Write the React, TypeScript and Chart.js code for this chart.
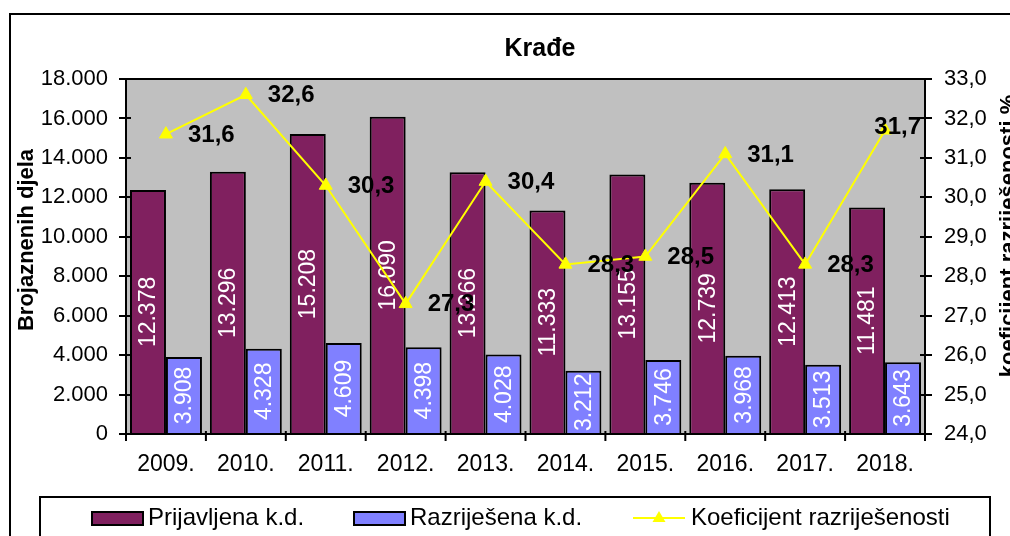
import React, { useEffect, useRef } from 'react';
import { Chart, registerables } from 'chart.js';

Chart.register(...registerables);

const years = ['2009.', '2010.', '2011.', '2012.', '2013.', '2014.', '2015.', '2016.', '2017.', '2018.'];
const prijavljena = [12378, 13296, 15208, 16090, 13266, 11333, 13155, 12739, 12413, 11481];
const razrijesena = [3908, 4328, 4609, 4398, 4028, 3212, 3746, 3968, 3513, 3643];
const koeficijent = [31.6, 32.6, 30.3, 27.3, 30.4, 28.3, 28.5, 31.1, 28.3, 31.7];

const seriesNames = ['Prijavljena k.d.', 'Razriješena k.d.', 'Koeficijent razriješenosti'];
const chartTitle = 'Krađe';
const leftTitle = 'Brojaznenih djela';
const rightTitle = 'koeficijent razriješenosti %';

const FONT = '"Liberation Sans", Arial, sans-serif';
const PURPLE = '#80205F';
const BLUE = '#8080FF';
const YELLOW = '#FFFF00';

const fmtThousands = (v: number) => {
  const s = Math.round(v).toString();
  return s.replace(/\B(?=(\d{3})+(?!\d))/g, '.');
};
const fmtDec = (v: number) => v.toFixed(1).replace('.', ',');

const decorPlugin = {
  id: 'decor',
  beforeDraw(chart: any) {
    const { ctx, chartArea: a } = chart;
    ctx.save();
    ctx.fillStyle = '#FFFFFF';
    ctx.fillRect(0, 0, chart.width, chart.height);
    ctx.strokeStyle = '#000';
    ctx.lineWidth = 2;
    ctx.strokeRect(10, 14, 1200, 800);
    ctx.fillStyle = '#C0C0C0';
    ctx.fillRect(a.left, a.top, a.right - a.left, a.bottom - a.top);
    ctx.restore();
  },
  afterDatasetDraw(chart: any, args: any) {
    const ds = chart.data.datasets[args.index];
    if (ds.type !== 'bar') return;
    const { ctx } = chart;
    ctx.save();
    ctx.fillStyle = '#FFFFFF';
    ctx.font = `23px ${FONT}`;
    ctx.textAlign = 'center';
    ctx.textBaseline = 'middle';
    args.meta.data.forEach((el: any, i: number) => {
      const p = el.getProps(['x', 'y', 'base'], true);
      ctx.save();
      ctx.translate(p.x, (p.y + p.base) / 2);
      ctx.rotate(-Math.PI / 2);
      ctx.fillText(fmtThousands(ds.data[i]), 0, 1);
      ctx.restore();
    });
    ctx.restore();
  },
  afterDatasetsDraw(chart: any) {
    const { ctx, chartArea: a } = chart;
    const yS = chart.scales.y;
    const y1S = chart.scales.y1;
    ctx.save();
    // frame
    ctx.strokeStyle = '#000';
    ctx.lineWidth = 2;
    ctx.beginPath();
    ctx.moveTo(a.left, a.top);
    ctx.lineTo(a.right, a.top);
    ctx.moveTo(a.left, a.top - 1);
    ctx.lineTo(a.left, a.bottom + 1);
    ctx.moveTo(a.right, a.top - 1);
    ctx.lineTo(a.right, a.bottom + 1);
    ctx.moveTo(a.left, a.bottom);
    ctx.lineTo(a.right, a.bottom);
    // ticks
    yS.ticks.forEach((t: any) => {
      const py = Math.round(yS.getPixelForValue(t.value));
      ctx.moveTo(a.left - 7, py);
      ctx.lineTo(a.left + 5, py);
    });
    y1S.ticks.forEach((t: any) => {
      const py = Math.round(y1S.getPixelForValue(t.value));
      ctx.moveTo(a.right - 5, py);
      ctx.lineTo(a.right + 7, py);
    });
    const n = years.length;
    for (let i = 0; i <= n; i++) {
      const px = a.left + ((a.right - a.left) * i) / n;
      ctx.moveTo(px, a.bottom - 3);
      ctx.lineTo(px, a.bottom + 7);
    }
    ctx.stroke();

    // line labels
    const meta = chart.getDatasetMeta(0);
    ctx.fillStyle = '#000';
    ctx.font = `bold 24px ${FONT}`;
    ctx.textAlign = 'left';
    ctx.textBaseline = 'middle';
    meta.data.forEach((el: any, i: number) => {
      const txt = fmtDec(koeficijent[i]);
      const w = ctx.measureText(txt).width;
      let x = el.x + 22;
      let y = el.y + 1;
      if (x + w > a.right - 4) {
        x = a.right - 4 - w;
        y = el.y - 3;
      }
      ctx.fillText(txt, x, y);
    });

    // title
    ctx.font = `bold 25px ${FONT}`;
    ctx.textAlign = 'center';
    ctx.fillText(chartTitle, 540, 49);

    // axis titles
    ctx.font = `bold 22px ${FONT}`;
    ctx.save();
    ctx.translate(16, 240);
    ctx.rotate(-Math.PI / 2);
    ctx.textBaseline = 'top';
    ctx.textAlign = 'center';
    ctx.fillText(leftTitle, 0, 0);
    ctx.restore();
    ctx.save();
    ctx.translate(998, 236);
    ctx.rotate(-Math.PI / 2);
    ctx.textBaseline = 'top';
    ctx.textAlign = 'center';
    ctx.fillText(rightTitle, 0, 0);
    ctx.restore();

    // legend
    ctx.lineWidth = 2;
    ctx.strokeStyle = '#000';
    ctx.strokeRect(40, 497, 950, 200);
    ctx.font = `24px ${FONT}`;
    ctx.textAlign = 'left';
    ctx.textBaseline = 'middle';
    const ly = 518;
    ctx.fillStyle = PURPLE;
    ctx.fillRect(92, 512, 51, 13);
    ctx.strokeRect(92, 512, 51, 13);
    ctx.fillStyle = '#000';
    ctx.fillText(seriesNames[0], 148, ly);
    ctx.fillStyle = BLUE;
    ctx.fillRect(354, 512, 51, 13);
    ctx.strokeRect(354, 512, 51, 13);
    ctx.fillStyle = '#000';
    ctx.fillText(seriesNames[1], 410, ly);
    ctx.strokeStyle = YELLOW;
    ctx.beginPath();
    ctx.moveTo(633, 518);
    ctx.lineTo(685, 518);
    ctx.stroke();
    ctx.fillStyle = YELLOW;
    ctx.beginPath();
    ctx.moveTo(659, 511);
    ctx.lineTo(665.5, 522);
    ctx.lineTo(652.5, 522);
    ctx.closePath();
    ctx.fill();
    ctx.fillStyle = '#000';
    ctx.fillText(seriesNames[2], 691, ly);
    ctx.restore();
  },
};

export default function App() {
  const ref = useRef<HTMLCanvasElement | null>(null);
  useEffect(() => {
    if (!ref.current) return;
    const chart = new Chart(ref.current, {
      type: 'bar',
      data: {
        labels: years,
        datasets: [
          {
            type: 'line',
            label: seriesNames[2],
            data: koeficijent,
            yAxisID: 'y1',
            borderColor: YELLOW,
            borderWidth: 2,
            pointStyle: 'triangle',
            pointRadius: 7.5,
            pointBackgroundColor: YELLOW,
            pointBorderColor: YELLOW,
            pointBorderWidth: 1,
            tension: 0,
            order: 0,
          } as any,
          {
            type: 'bar',
            label: seriesNames[0],
            data: prijavljena,
            yAxisID: 'y',
            backgroundColor: PURPLE,
            borderColor: '#000',
            borderWidth: 2,
            categoryPercentage: 0.9,
            barPercentage: 1,
            order: 1,
          },
          {
            type: 'bar',
            label: seriesNames[1],
            data: razrijesena,
            yAxisID: 'y',
            backgroundColor: BLUE,
            borderColor: '#000',
            borderWidth: 2,
            categoryPercentage: 0.9,
            barPercentage: 1,
            order: 1,
          },
        ],
      },
      options: {
        animation: false,
        responsive: false,
        devicePixelRatio: 1,
        layout: { padding: { top: 79, left: 0, right: 0, bottom: 0 } },
        plugins: { legend: { display: false }, tooltip: { enabled: false }, title: { display: false } },
        scales: {
          x: {
            grid: { display: false, drawTicks: false },
            border: { display: false },
            ticks: { color: '#000', font: { family: FONT, size: 23 }, padding: 17, maxRotation: 0 },
            afterFit: (s: any) => { s.height = 102; },
          },
          y: {
            position: 'left',
            min: 0,
            max: 18000,
            grid: { display: false, drawTicks: false },
            border: { display: false },
            ticks: {
              stepSize: 2000,
              color: '#000',
              font: { family: FONT, size: 22 },
              padding: 18,
              callback: (v: any) => fmtThousands(Number(v)),
            },
            afterFit: (s: any) => { s.width = 126; },
          },
          y1: {
            position: 'right',
            min: 24,
            max: 33,
            grid: { display: false, drawTicks: false },
            border: { display: false },
            ticks: {
              stepSize: 1,
              color: '#000',
              font: { family: FONT, size: 22 },
              padding: 19,
              callback: (v: any) => fmtDec(Number(v)),
            },
            afterFit: (s: any) => { s.width = 85; },
          },
        },
      },
      plugins: [decorPlugin],
    });
    return () => chart.destroy();
  }, []);
  return (
    <div style={{ position: 'fixed', left: 0, top: 0, width: 1010, height: 536 }}>
      <canvas ref={ref} width={1010} height={536} />
    </div>
  );
}
